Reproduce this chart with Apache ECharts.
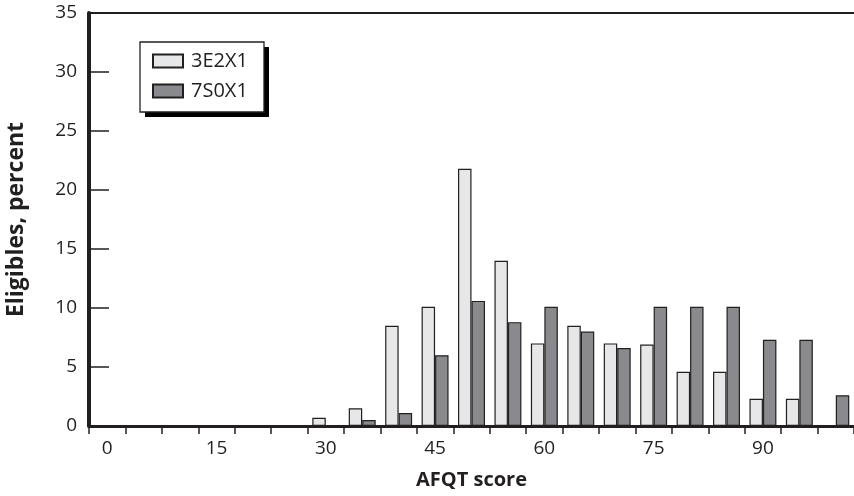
<!DOCTYPE html>
<html>
<head>
<meta charset="utf-8">
<script src="https://cdn.jsdelivr.net/npm/echarts@6/dist/echarts.min.js"></script>
<style>html,body{margin:0;padding:0;background:#fff}#c{width:854px;height:496px}</style>
</head>
<body>
<div id="c"></div>
<script>
var categories = ['0','5','10','15','20','25','30','35','40','45','50','55','60','65','70','75','80','85','90','95','100'];
var series3E2X1 = [0,0,0,0,0,0,0.7,1.5,8.5,10.1,21.8,14.0,7.0,8.5,7.0,6.9,4.6,4.6,2.3,2.3,0];
var series7S0X1 = [0,0,0,0,0,0,0,0.5,1.1,6.0,10.6,8.8,10.1,8.0,6.6,10.1,10.1,10.1,7.3,7.3,2.6];
var yTicks = {min:0, max:35, interval:5};

var ink = '#231f20';
var font = 'Open Sans';
var chart = echarts.init(document.getElementById('c'));
chart.setOption({
  animation: false,
  grid: {left: 89, right: 0, top: 13, bottom: 70, outerBoundsMode: 'none', containLabel: false},
  graphic: [
    {type: 'rect', z: 3, z2: 0, shape: {x: 145, y: 47, width: 124, height: 70}, style: {fill: '#000'}},
    {type: 'rect', z: 3, z2: 1, shape: {x: 140, y: 42, width: 124, height: 70}, style: {fill: '#fff', stroke: ink, lineWidth: 1.3}}
  ],
  legend: {
    orient: 'vertical', left: 152, top: 51, z: 5,
    padding: 0, itemGap: 10, itemWidth: 30, itemHeight: 13,
    icon: 'rect',
    textStyle: {fontFamily: font, fontSize: 20, lineHeight: 20, color: ink, padding: [0,0,0,3]},
    data: ['3E2X1','7S0X1']
  },
  xAxis: [{
    type: 'category', data: categories, boundaryGap: true,
    name: 'AFQT score', nameLocation: 'middle', nameGap: 44,
    nameTextStyle: {fontFamily: font, fontSize: 20, fontWeight: 'bold', color: ink},
    axisLine: {lineStyle: {color: ink, width: 3}},
    axisTick: {show: true, interval: 0, length: 8, lineStyle: {color: ink, width: 1.5}},
    axisLabel: {interval: 2, margin: 13, fontFamily: font, fontSize: 19, color: ink}
  },{
    type: 'category', data: categories, position: 'top',
    axisLine: {lineStyle: {color: ink, width: 2}},
    axisTick: {show: false}, axisLabel: {show: false}
  }],
  yAxis: {
    type: 'value', min: yTicks.min, max: yTicks.max, interval: yTicks.interval,
    name: 'Eligibles, percent', nameLocation: 'middle', nameGap: 61,
    nameTextStyle: {fontFamily: font, fontSize: 23, fontWeight: 'bold', color: ink},
    axisLine: {show: true, lineStyle: {color: ink, width: 4}},
    axisTick: {show: true, inside: true, length: 20, lineStyle: {color: ink, width: 1.5}},
    splitLine: {show: false},
    axisLabel: {margin: 12, fontFamily: font, fontSize: 19, color: ink}
  },
  series: [{
    name: '3E2X1', type: 'bar', data: series3E2X1, barGap: '0%', barCategoryGap: '26%',
    itemStyle: {color: '#e6e7e8', borderColor: ink, borderWidth: 1.2}
  },{
    name: '7S0X1', type: 'bar', data: series7S0X1, barGap: '0%', barCategoryGap: '26%',
    itemStyle: {color: '#898a8d', borderColor: ink, borderWidth: 1.2}
  }]
});
</script>
</body>
</html>
